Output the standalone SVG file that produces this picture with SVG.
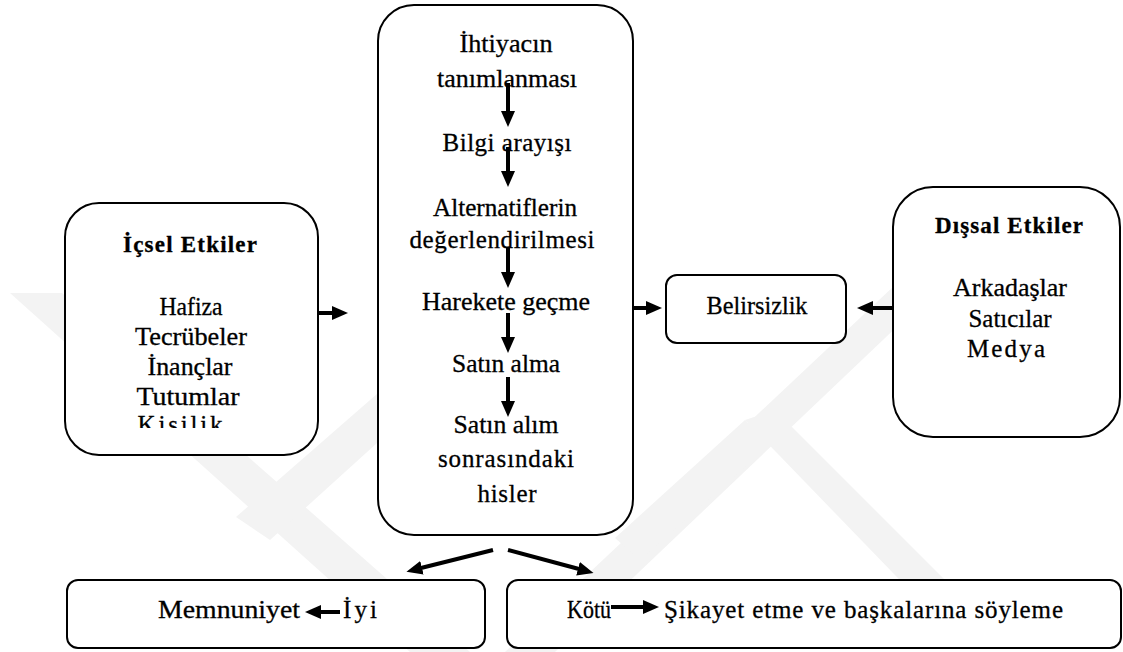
<svg xmlns="http://www.w3.org/2000/svg" width="1123" height="652" viewBox="0 0 1123 652" font-family="'Liberation Serif', 'Times New Roman', 'DejaVu Serif', serif">
  <style>
    .box { fill: #ffffff; stroke: #000000; stroke-width: 2; }
    text { font-family: 'Liberation Serif', 'Times New Roman', 'DejaVu Serif', serif; fill: #000000; stroke: #000000; stroke-width: 0.3; text-anchor: middle; }
    .t { font-size: 25px; }
    .b { font-size: 23px; font-weight: bold; }
    .s { text-anchor: start; }
    .arr { stroke: #000000; stroke-width: 4; fill: none; marker-end: url(#head); }
    .wm { fill: #f3f3f3; }
  </style>
  <defs>
    <marker id="head" markerUnits="userSpaceOnUse" markerWidth="16" markerHeight="14" viewBox="0 0 16 14" refX="1" refY="7" orient="auto">
      <path d="M0,0 L16,7 L0,14 z" fill="#000000"/>
    </marker>
    <clipPath id="clipInner">
      <rect x="66" y="204" width="251" height="224"/>
    </clipPath>
  </defs>

  <rect width="1123" height="652" fill="#ffffff"/>

  <!-- faint background emblem -->
  <g id="emblem">
    <polygon class="wm" points="10,293 62,293 470,652 410,652"/>
    <polygon class="wm" points="236,517 270,540 430,395 401,373"/>
    <polygon class="wm" points="505,652 555,652 925,300 895,285"/>
    <polygon class="wm" points="745,420 770,445 640,560 615,538"/>
    <polygon class="wm" points="745,420 775,410 955,590 924,605"/>
  </g>

  <!-- Internal influences -->
  <g id="icsel">
    <rect class="box" x="65" y="203" width="253" height="252" rx="34"/>
    <text class="b" x="190" y="252" textLength="134" lengthAdjust="spacing">İçsel Etkiler</text>
    <g clip-path="url(#clipInner)">
      <text class="t" x="191" y="315" textLength="63" lengthAdjust="spacingAndGlyphs">Hafiza</text>
      <text class="t" x="191" y="345" textLength="112" lengthAdjust="spacingAndGlyphs">Tecrübeler</text>
      <text class="t" x="190" y="375" textLength="85" lengthAdjust="spacingAndGlyphs">İnançlar</text>
      <text class="t" x="188" y="405" textLength="103" lengthAdjust="spacingAndGlyphs">Tutumlar</text>
      <text class="t" x="180" y="433" textLength="85" lengthAdjust="spacing">Kişilik</text>
    </g>
  </g>

  <!-- Decision process -->
  <g id="surec">
    <rect class="box" x="378" y="5" width="255" height="530" rx="36"/>
    <text class="t" x="506" y="52" textLength="93" lengthAdjust="spacingAndGlyphs">İhtiyacın</text>
    <text class="t" x="507" y="87" textLength="140" lengthAdjust="spacingAndGlyphs">tanımlanması</text>
    <text class="t" x="507" y="151" textLength="129" lengthAdjust="spacing">Bilgi arayışı</text>
    <text class="t" x="505" y="216" textLength="144" lengthAdjust="spacingAndGlyphs">Alternatiflerin</text>
    <text class="t" x="502" y="248" textLength="185" lengthAdjust="spacing">değerlendirilmesi</text>
    <text class="t" x="506" y="310" textLength="168" lengthAdjust="spacingAndGlyphs">Harekete geçme</text>
    <text class="t" x="506" y="372" textLength="108" lengthAdjust="spacingAndGlyphs">Satın alma</text>
    <text class="t" x="506" y="433" textLength="105" lengthAdjust="spacingAndGlyphs">Satın alım</text>
    <text class="t" x="506" y="467" textLength="136" lengthAdjust="spacing">sonrasındaki</text>
    <text class="t" x="507" y="502" textLength="59" lengthAdjust="spacing">hisler</text>
  </g>

  <!-- Uncertainty -->
  <g id="belirsizlik">
    <rect class="box" x="666" y="275" width="180" height="68" rx="11"/>
    <text class="t" x="757" y="314" textLength="101" lengthAdjust="spacingAndGlyphs">Belirsizlik</text>
  </g>

  <!-- External influences -->
  <g id="dissal">
    <rect class="box" x="893" y="187" width="227" height="250" rx="40"/>
    <text class="b" x="1009" y="233" textLength="148" lengthAdjust="spacing">Dışsal Etkiler</text>
    <text class="t" x="1010" y="296" textLength="114" lengthAdjust="spacingAndGlyphs">Arkadaşlar</text>
    <text class="t" x="1010" y="327" textLength="83" lengthAdjust="spacingAndGlyphs">Satıcılar</text>
    <text class="t" x="1006" y="357" textLength="78" lengthAdjust="spacing">Medya</text>
  </g>

  <!-- Outcome: good -->
  <g id="iyi">
    <rect class="box" x="67" y="580" width="418" height="68" rx="11"/>
    <text class="t" x="229" y="618" textLength="142" lengthAdjust="spacingAndGlyphs">Memnuniyet</text>
    <text class="t s" x="343" y="618" textLength="34" lengthAdjust="spacing">İyi</text>
  </g>

  <!-- Outcome: bad -->
  <g id="kotu">
    <rect class="box" x="507" y="580" width="614" height="68" rx="11"/>
    <text class="t s" x="567" y="618" textLength="44" lengthAdjust="spacingAndGlyphs">Kötü</text>
    <text class="t s" x="664" y="618" textLength="399" lengthAdjust="spacing">Şikayet etme ve başkalarına söyleme</text>
  </g>

  <!-- Connectors -->
  <g id="connectors">
    <line class="arr" x1="508" y1="83" x2="508" y2="112"/>
    <line class="arr" x1="508" y1="147" x2="508" y2="172"/>
    <line class="arr" x1="508" y1="247" x2="508" y2="273"/>
    <line class="arr" x1="508" y1="313" x2="508" y2="338"/>
    <line class="arr" x1="508" y1="377" x2="508" y2="402"/>
    <line class="arr" x1="318" y1="313" x2="333" y2="313"/>
    <line class="arr" x1="633" y1="308" x2="647" y2="308"/>
    <line class="arr" x1="893" y1="308" x2="872" y2="308"/>
    <line class="arr" x1="493" y1="550" x2="421" y2="568"/>
    <line class="arr" x1="508" y1="550" x2="579" y2="569"/>
    <line class="arr" x1="340" y1="612" x2="320" y2="612"/>
    <line class="arr" x1="611" y1="607" x2="644" y2="607"/>
  </g>
</svg>
